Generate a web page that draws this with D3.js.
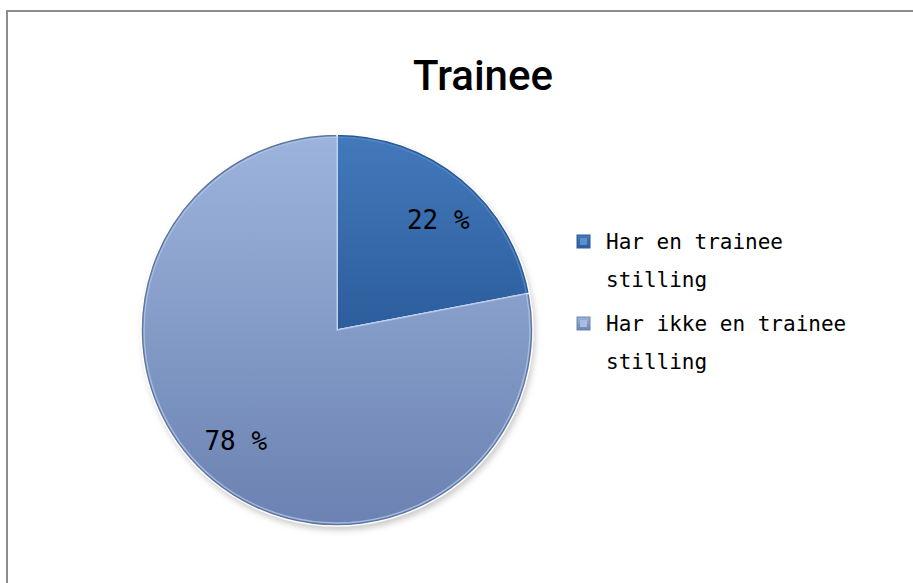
<!DOCTYPE html>
<html lang="no">
<head>
    <meta charset="UTF-8">
    <title>Trainee</title>
    <style>
        body { margin: 0; background: white; }
        svg { display: block; }
        .lbl { font-family: "DejaVu Sans Mono", monospace; font-size: 21px; fill: black; }
        .pct { font-family: "DejaVu Sans Mono", monospace; font-size: 26px; fill: black; }
        .title { font-family: Roboto, "Liberation Sans", sans-serif; font-weight: 500; font-size: 42px; fill: black; }
    </style>
    <script src="https://d3js.org/d3.v7.min.js"></script>
</head>
<body>
<div id="chart"></div>
<script>
    // data
    const categories = ["Har en trainee stilling", "Har ikke en trainee stilling"];
    const legendLines = [["Har en trainee", "stilling"], ["Har ikke en trainee", "stilling"]];
    const values = [22, 78];
    const valueLabels = ["22 %", "78 %"];

    const width = 913, height = 583;
    const cx = 337, cy = 330, radius = 196;

    const svg = d3.select("#chart").append("svg")
        .attr("width", width)
        .attr("height", height);

    const defs = svg.append("defs");
    // gradients for the two slices
    const grads = [
        ["g0", "#4279bb", "#2c5d9c"],
        ["g1", "#9cb4dc", "#6b82b2"]
    ];
    grads.forEach(g => {
        const lg = defs.append("linearGradient").attr("id", g[0])
            .attr("x1", 0).attr("y1", 0).attr("x2", 0).attr("y2", 1);
        lg.append("stop").attr("offset", "0%").attr("stop-color", g[1]);
        lg.append("stop").attr("offset", "100%").attr("stop-color", g[2]);
    });
    const shadow = defs.append("filter").attr("id", "shadow")
        .attr("x", "-20%").attr("y", "-20%").attr("width", "140%").attr("height", "140%");
    shadow.append("feGaussianBlur").attr("stdDeviation", 3);

    // frame (only top and left visible)
    svg.append("rect")
        .attr("x", 7).attr("y", 11)
        .attr("width", 960).attr("height", 640)
        .attr("fill", "white")
        .attr("stroke", "#8c8c8c")
        .attr("stroke-width", 2);

    svg.append("text")
        .attr("class", "title")
        .attr("x", 483).attr("y", 90)
        .attr("text-anchor", "middle")
        .text("Trainee");

    const pie = d3.pie().sort(null).value(d => d);
    const arcs = pie(values);
    const arc = d3.arc().innerRadius(0).outerRadius(radius);
    const bevel = d3.arc().innerRadius(0).outerRadius(radius - 3);
    const labelArc = d3.arc().innerRadius(radius * 0.765).outerRadius(radius * 0.765);

    const g = svg.append("g").attr("transform", `translate(${cx},${cy})`);

    g.append("circle")
        .attr("cx", 2).attr("cy", 4)
        .attr("r", radius)
        .attr("fill", "#c8c8c8")
        .attr("filter", "url(#shadow)");

    const slices = g.selectAll(".slice").data(arcs).enter().append("g");
    slices.append("path")
        .attr("d", arc)
        .attr("fill", (d, i) => i === 0 ? "#2a5a96" : "#5f75a3")
        .attr("stroke", "white")
        .attr("stroke-width", 1.5);
    slices.append("path")
        .attr("d", bevel)
        .attr("fill", (d, i) => `url(#g${i})`)
        .attr("stroke", (d, i) => i === 0 ? "#5a8ccc" : "#b4c8e8")
        .attr("stroke-width", 1.5)
        .attr("stroke-opacity", 0.8);

    // labels sit slightly clockwise of the slice middle, as in the original
    slices.append("text")
        .attr("class", "pct")
        .attr("transform", d => {
            const c = labelArc.centroid({ startAngle: d.startAngle + 0.05, endAngle: d.endAngle + 0.05 });
            return `translate(${c})`;
        })
        .attr("text-anchor", "middle")
        .attr("dy", "0.36em")
        .text((d, i) => valueLabels[i]);

    // legend
    const legendColors = [["#5a90d0", "#2c5d9c"], ["#a8bee0", "#6f86b4"]];
    const legend = svg.append("g").attr("transform", "translate(577,235)");
    const items = legend.selectAll(".item").data(categories).enter().append("g")
        .attr("transform", (d, i) => `translate(0,${i * 82})`);
    items.append("rect")
        .attr("width", 13).attr("height", 13)
        .attr("fill", (d, i) => `url(#g${i})`)
        .attr("stroke", (d, i) => legendColors[i][1])
        .attr("stroke-width", 1);
    items.append("rect")
        .attr("x", 3).attr("y", 3)
        .attr("width", 7).attr("height", 7)
        .attr("fill", (d, i) => legendColors[i][0]);
    items.each(function (d, i) {
        const t = d3.select(this).append("text").attr("class", "lbl");
        legendLines[i].forEach((line, j) => {
            t.append("tspan")
                .attr("x", 29)
                .attr("y", 7 + j * 38)
                .attr("dy", "0.35em")
                .text(line);
        });
    });
</script>
</body>
</html>
